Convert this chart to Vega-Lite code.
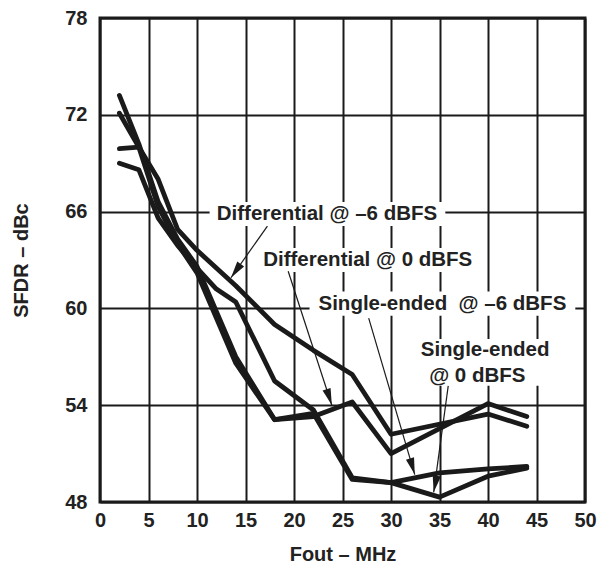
{
  "$schema": "https://vega.github.io/schema/vega-lite/v6.json",
  "width": 485,
  "height": 484,
  "autosize": "none",
  "padding": {"left": 100, "top": 18, "right": 25, "bottom": 67},
  "background": "white",
  "config": {
    "font": "Liberation Sans",
    "view": {"stroke": "#1a1a1a", "strokeWidth": 3},
    "axis": {
      "grid": true,
      "gridColor": "#1a1a1a",
      "gridWidth": 2,
      "gridOpacity": 1,
      "domain": false,
      "ticks": false,
      "tickSize": 0,
      "labelFont": "Liberation Sans",
      "labelFontSize": 20,
      "labelFontWeight": "bold",
      "labelColor": "#222",
      "labelFlush": false,
      "labelOverlap": false,
      "titleFont": "Liberation Sans",
      "titleFontSize": 20,
      "titleFontWeight": "bold",
      "titleColor": "#222"
    }
  },
  "datasets": {
    "curves": [
      {"s": "Differential @ -6 dBFS", "x": 2, "y": 69.9},
      {"s": "Differential @ -6 dBFS", "x": 4, "y": 70.0},
      {"s": "Differential @ -6 dBFS", "x": 6, "y": 68.0},
      {"s": "Differential @ -6 dBFS", "x": 8, "y": 64.9},
      {"s": "Differential @ -6 dBFS", "x": 10, "y": 63.6},
      {"s": "Differential @ -6 dBFS", "x": 14, "y": 61.4},
      {"s": "Differential @ -6 dBFS", "x": 18, "y": 59.0},
      {"s": "Differential @ -6 dBFS", "x": 22, "y": 57.4},
      {"s": "Differential @ -6 dBFS", "x": 26, "y": 55.9},
      {"s": "Differential @ -6 dBFS", "x": 30, "y": 52.2},
      {"s": "Differential @ -6 dBFS", "x": 40, "y": 53.45},
      {"s": "Differential @ -6 dBFS", "x": 44, "y": 52.7},
      {"s": "Differential @ 0 dBFS", "x": 2, "y": 73.2},
      {"s": "Differential @ 0 dBFS", "x": 4, "y": 70.2},
      {"s": "Differential @ 0 dBFS", "x": 6, "y": 66.6},
      {"s": "Differential @ 0 dBFS", "x": 8, "y": 64.3},
      {"s": "Differential @ 0 dBFS", "x": 10, "y": 62.6},
      {"s": "Differential @ 0 dBFS", "x": 14, "y": 57.0},
      {"s": "Differential @ 0 dBFS", "x": 18, "y": 53.1},
      {"s": "Differential @ 0 dBFS", "x": 22, "y": 53.3},
      {"s": "Differential @ 0 dBFS", "x": 26, "y": 54.2},
      {"s": "Differential @ 0 dBFS", "x": 30, "y": 51.0},
      {"s": "Differential @ 0 dBFS", "x": 40, "y": 54.1},
      {"s": "Differential @ 0 dBFS", "x": 44, "y": 53.3},
      {"s": "Single-ended @ -6 dBFS", "x": 2, "y": 69.0},
      {"s": "Single-ended @ -6 dBFS", "x": 4, "y": 68.6},
      {"s": "Single-ended @ -6 dBFS", "x": 6, "y": 65.6},
      {"s": "Single-ended @ -6 dBFS", "x": 8, "y": 63.9},
      {"s": "Single-ended @ -6 dBFS", "x": 10, "y": 62.5},
      {"s": "Single-ended @ -6 dBFS", "x": 12, "y": 61.2},
      {"s": "Single-ended @ -6 dBFS", "x": 14, "y": 60.4},
      {"s": "Single-ended @ -6 dBFS", "x": 18, "y": 55.5},
      {"s": "Single-ended @ -6 dBFS", "x": 22, "y": 53.7},
      {"s": "Single-ended @ -6 dBFS", "x": 26, "y": 49.5},
      {"s": "Single-ended @ -6 dBFS", "x": 30, "y": 49.2},
      {"s": "Single-ended @ -6 dBFS", "x": 35, "y": 49.8},
      {"s": "Single-ended @ -6 dBFS", "x": 40, "y": 50.05},
      {"s": "Single-ended @ -6 dBFS", "x": 44, "y": 50.2},
      {"s": "Single-ended @ 0 dBFS", "x": 2, "y": 72.1},
      {"s": "Single-ended @ 0 dBFS", "x": 4, "y": 70.0},
      {"s": "Single-ended @ 0 dBFS", "x": 6, "y": 66.3},
      {"s": "Single-ended @ 0 dBFS", "x": 8, "y": 64.0},
      {"s": "Single-ended @ 0 dBFS", "x": 10, "y": 62.2},
      {"s": "Single-ended @ 0 dBFS", "x": 14, "y": 56.6},
      {"s": "Single-ended @ 0 dBFS", "x": 18, "y": 53.1},
      {"s": "Single-ended @ 0 dBFS", "x": 22, "y": 53.5},
      {"s": "Single-ended @ 0 dBFS", "x": 26, "y": 49.4},
      {"s": "Single-ended @ 0 dBFS", "x": 30, "y": 49.2},
      {"s": "Single-ended @ 0 dBFS", "x": 35, "y": 48.3},
      {"s": "Single-ended @ 0 dBFS", "x": 40, "y": 49.6},
      {"s": "Single-ended @ 0 dBFS", "x": 44, "y": 50.1}
    ],
    "boxes": [
      {"x": 11.3, "x2": 35.6, "y": 65.1, "y2": 66.6},
      {"x": 16.3, "x2": 38.9, "y": 62.25, "y2": 63.75},
      {"x": 21.6, "x2": 49.0, "y": 59.55, "y2": 61.05},
      {"x": 32.9, "x2": 46.4, "y": 55.2, "y2": 58.1}
    ],
    "labels": [
      {"x": 23.4, "y": 65.85, "text": "Differential @ –6 dBFS"},
      {"x": 27.6, "y": 62.98, "text": "Differential @ 0 dBFS"},
      {"x": 35.3, "y": 60.3, "text": "Single-ended\u00a0 @ –6 dBFS"},
      {"x": 39.7, "y": 57.4, "text": "Single-ended"},
      {"x": 38.9, "y": 55.8, "text": "@ 0 dBFS"}
    ],
    "arrows": [
      {"id": "a1", "x": 17.26, "y": 65.1, "x2": 13.5, "y2": 61.9},
      {"id": "a2", "x": 19.4, "y": 62.3, "x2": 23.9, "y2": 54.0},
      {"id": "a3", "x": 27.7, "y": 59.4, "x2": 32.45, "y2": 49.7},
      {"id": "a4", "x": 35.9, "y": 55.2, "x2": 34.4, "y2": 48.6}
    ]
  },
  "encoding": {
    "x": {
      "field": "x",
      "type": "quantitative",
      "scale": {"domain": [0, 50], "nice": false, "zero": false},
      "axis": {"values": [0, 5, 10, 15, 20, 25, 30, 35, 40, 45, 50], "title": "Fout – MHz", "labelPadding": 8, "titlePadding": 14}
    },
    "y": {
      "field": "y",
      "type": "quantitative",
      "scale": {"domain": [48, 78], "nice": false, "zero": false},
      "axis": {"values": [48, 54, 60, 66, 72, 78], "title": "SFDR – dBc", "labelPadding": 13, "titlePadding": 33}
    }
  },
  "layer": [
    {
      "data": {"name": "boxes"},
      "mark": {"type": "rect", "fill": "white", "stroke": null},
      "encoding": {"x2": {"field": "x2"}, "y2": {"field": "y2"}}
    },
    {
      "data": {"name": "labels"},
      "mark": {"type": "text", "font": "Liberation Sans", "fontSize": 20.5, "fontWeight": "bold", "color": "#222", "align": "center", "baseline": "middle"},
      "encoding": {"text": {"field": "text"}}
    },
    {
      "data": {"name": "curves"},
      "mark": {"type": "line", "color": "#1a1a1a", "strokeWidth": 4.8, "strokeCap": "round", "strokeJoin": "round"},
      "encoding": {"detail": {"field": "s"}}
    },
    {
      "data": {"name": "arrows"},
      "mark": {"type": "rule", "color": "#1a1a1a", "strokeWidth": 1.2},
      "encoding": {"x2": {"field": "x2"}, "y2": {"field": "y2"}}
    },
    {
      "data": {"name": "arrows"},
      "transform": [{"filter": "datum.id == 'a1'"}],
      "mark": {"type": "point", "shape": "M0,0L0.6,2.4L-0.6,2.4Z", "filled": true, "color": "#1a1a1a", "size": 196, "angle": 215.4, "opacity": 1},
      "encoding": {"x": {"field": "x2", "type": "quantitative"}, "y": {"field": "y2", "type": "quantitative"}}
    },
    {
      "data": {"name": "arrows"},
      "transform": [{"filter": "datum.id == 'a2'"}],
      "mark": {"type": "point", "shape": "M0,0L0.6,2.4L-0.6,2.4Z", "filled": true, "color": "#1a1a1a", "size": 196, "angle": 161.8, "opacity": 1},
      "encoding": {"x": {"field": "x2", "type": "quantitative"}, "y": {"field": "y2", "type": "quantitative"}}
    },
    {
      "data": {"name": "arrows"},
      "transform": [{"filter": "datum.id == 'a3'"}],
      "mark": {"type": "point", "shape": "M0,0L0.6,2.4L-0.6,2.4Z", "filled": true, "color": "#1a1a1a", "size": 196, "angle": 163.5, "opacity": 1},
      "encoding": {"x": {"field": "x2", "type": "quantitative"}, "y": {"field": "y2", "type": "quantitative"}}
    },
    {
      "data": {"name": "arrows"},
      "transform": [{"filter": "datum.id == 'a4'"}],
      "mark": {"type": "point", "shape": "M0,0L0.6,2.4L-0.6,2.4Z", "filled": true, "color": "#1a1a1a", "size": 196, "angle": 190.7, "opacity": 1},
      "encoding": {"x": {"field": "x2", "type": "quantitative"}, "y": {"field": "y2", "type": "quantitative"}}
    }
  ]
}
